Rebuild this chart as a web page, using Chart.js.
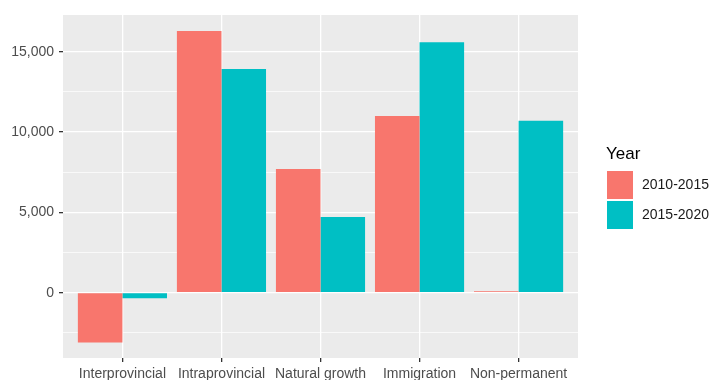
<!DOCTYPE html>
<html>
<head>
<meta charset="utf-8">
<script src="https://cdn.jsdelivr.net/npm/chart.js@4"></script>
<style>
  html, body { margin: 0; padding: 0; background: #fff; }
  #wrap { width: 714px; height: 380px; }
</style>
</head>
<body>
<div id="wrap"><canvas id="chart"></canvas></div>
<script>
// Data
const categories = ['Interprovincial', 'Intraprovincial', 'Natural growth', 'Immigration', 'Non-permanent'];
const years = ['2010-2015', '2015-2020'];
const values2010 = [-3100, 16300, 7700, 11000, 90];
const values2015 = [-350, 13930, 4710, 15600, 10700];
const colors = ['#F8766D', '#00BFC4'];
const yTicks = [-2500, 0, 2500, 5000, 7500, 10000, 12500, 15000];

const FONT = '"Liberation Sans", Arial, Helvetica, sans-serif';

function toPoints(arr) {
    return arr.map(function(v, i) { return { x: i + 1, y: v }; });
}

// grey panel behind the plot
const panelBg = {
    id: 'panelBg',
    beforeDraw: function(chart) {
        const a = chart.chartArea;
        const ctx = chart.ctx;
        ctx.save();
        ctx.fillStyle = '#EBEBEB';
        ctx.fillRect(a.left, a.top, a.right - a.left, a.bottom - a.top);
        ctx.restore();
    }
};

// ggplot style legend on the right
const sideLegend = {
    id: 'sideLegend',
    afterDraw: function(chart) {
        const ctx = chart.ctx;
        ctx.save();
        ctx.fillStyle = '#000';
        ctx.font = '17px ' + FONT;
        ctx.textBaseline = 'alphabetic';
        ctx.textAlign = 'left';
        ctx.fillText('Year', 606, 159);
        ctx.font = '14px ' + FONT;
        ctx.textBaseline = 'middle';
        years.forEach(function(label, i) {
            const y = 171 + i * 30;
            ctx.fillStyle = colors[i];
            ctx.fillRect(607, y, 26, 28);
            ctx.fillStyle = '#1A1A1A';
            ctx.fillText(label, 642, y + 14.5);
        });
        ctx.restore();
    }
};

new Chart(document.getElementById('chart').getContext('2d'), {
    type: 'bar',
    data: {
        datasets: [{
            label: years[0],
            data: toPoints(values2010),
            backgroundColor: colors[0]
        }, {
            label: years[1],
            data: toPoints(values2015),
            backgroundColor: colors[1]
        }]
    },
    options: {
        responsive: true,
        maintainAspectRatio: false,
        animation: false,
        categoryPercentage: 0.9,
        barPercentage: 1.0,
        layout: { padding: { top: 15, right: 136, left: 0, bottom: 0 } },
        plugins: {
            legend: { display: false },
            tooltip: { enabled: false }
        },
        scales: {
            x: {
                type: 'linear',
                min: 0.4,
                max: 5.6,
                offset: false,
                afterBuildTicks: function(scale) {
                    scale.ticks = categories.map(function(c, i) { return { value: i + 1 }; });
                },
                afterFit: function(scale) { scale.height = 22; },
                border: { display: false },
                grid: {
                    offset: false,
                    color: '#FFFFFF',
                    lineWidth: 1.3,
                    tickColor: '#333333',
                    tickLength: 4
                },
                ticks: {
                    autoSkip: false,
                    maxRotation: 0,
                    padding: 4,
                    color: '#4D4D4D',
                    font: { family: FONT, size: 14 },
                    callback: function(value) { return categories[value - 1] || ''; }
                }
            },
            y: {
                min: -4066,
                max: 17290,
                afterBuildTicks: function(scale) {
                    scale.ticks = yTicks.map(function(v) { return { value: v }; });
                },
                afterFit: function(scale) { scale.width = 63; },
                border: { display: false },
                grid: {
                    color: '#FFFFFF',
                    lineWidth: function(c) { return c.tick && c.tick.value % 5000 === 0 ? 1.3 : 0.7; },
                    tickColor: function(c) { return c.tick && c.tick.value % 5000 === 0 ? '#333333' : 'rgba(0,0,0,0)'; },
                    tickLength: 4
                },
                ticks: {
                    padding: 5,
                    color: '#4D4D4D',
                    font: { family: FONT, size: 14 },
                    callback: function(value) {
                        return value % 5000 === 0 ? value.toLocaleString('en-US') : '';
                    }
                }
            }
        }
    },
    plugins: [panelBg, sideLegend]
});
</script>
</body>
</html>
